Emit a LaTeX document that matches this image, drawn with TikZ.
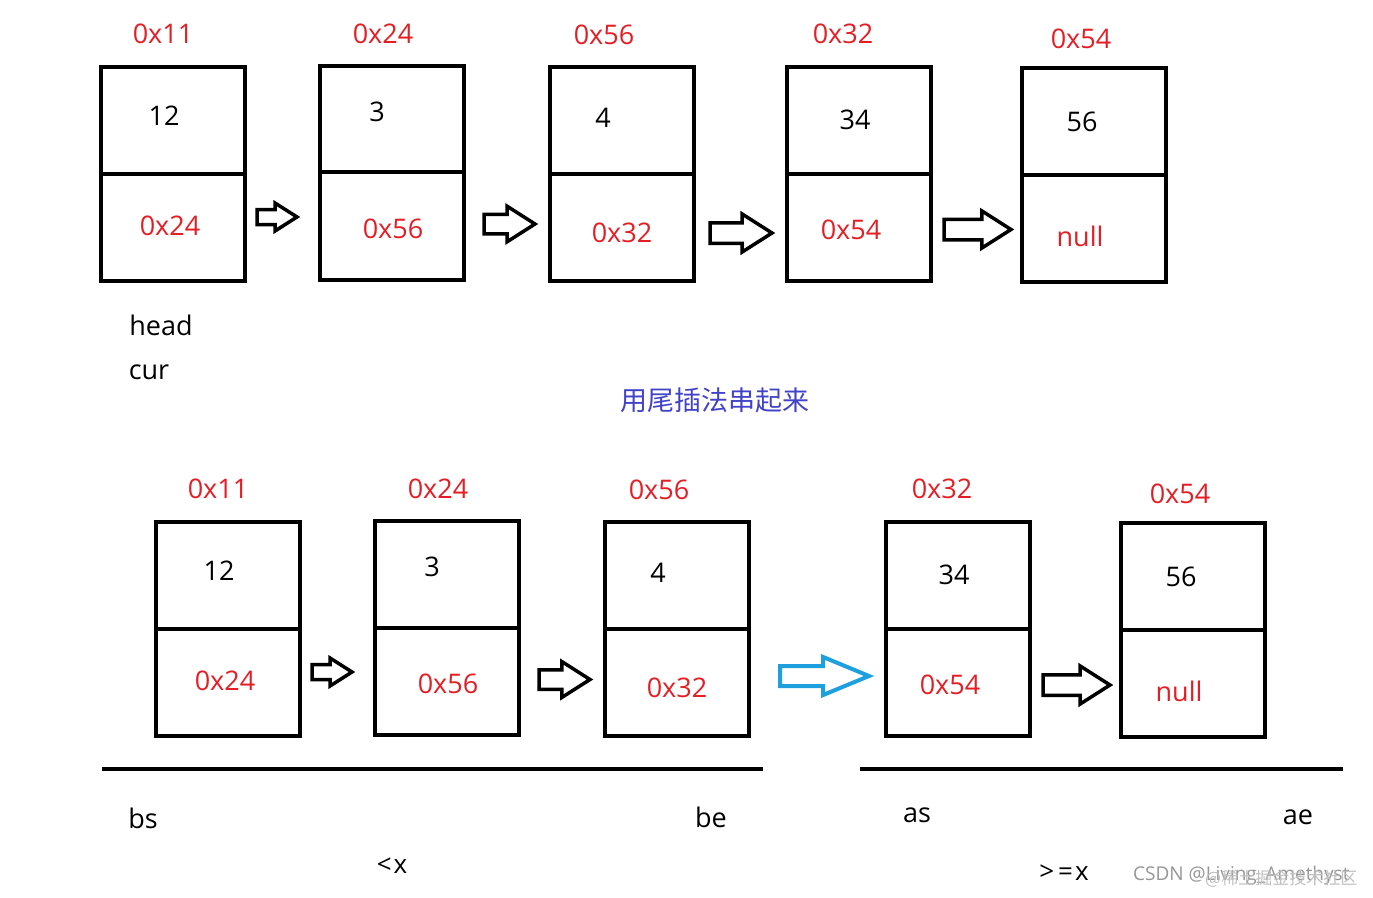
\documentclass[tikz,border=0pt]{standalone}
\usepackage{fontspec}
\setmainfont{Open Sans}
\newfontfamily\cjk{Noto Sans CJK SC}
\usetikzlibrary{shapes.arrows}
\definecolor{addrred}{RGB}{228,30,36}
\definecolor{txtblue}{RGB}{66,66,200}
\definecolor{arrblue}{RGB}{30,160,222}
\definecolor{wmgray}{RGB}{150,150,150}
\tikzset{
  cell/.style={draw=black, line width=4pt, minimum width=144pt, inner sep=0pt, outer sep=0pt},
  addr/.style={text=addrred, font=\fontsize{27}{30}\selectfont, inner sep=0pt},
  val/.style={text=black, font=\fontsize{27}{30}\selectfont, inner sep=0pt},
  lbl/.style={text=black, font=\fontsize{27}{30}\selectfont, inner sep=0pt},
  blk/.style={single arrow, draw=black, line width=3.5pt, inner xsep=0pt, outer sep=0pt, single arrow tip angle=65, anchor=west},
  blu/.style={single arrow, draw=arrblue, line width=4pt, inner xsep=0pt, outer sep=0pt, single arrow tip angle=45, anchor=west},
  sep/.style={line width=4pt, draw=black}
}
\begin{document}
\begin{tikzpicture}[x=1pt,y=-1pt]
\useasboundingbox (0,0) rectangle (1373,897);
% ---------- top row ----------
\node[cell, minimum height=107pt] (t1a) at (173,120.5) {};
\node[cell, minimum height=107pt] (t1b) at (173,227.5) {};
\node[cell, minimum height=106pt] (t2a) at (392,119) {};
\node[cell, minimum height=108pt] (t2b) at (392,226) {};
\node[cell, minimum height=107pt] (t3a) at (622,120.5) {};
\node[cell, minimum height=107pt] (t3b) at (622,227.5) {};
\node[cell, minimum height=107pt] (t4a) at (859,120.5) {};
\node[cell, minimum height=107pt] (t4b) at (859,227.5) {};
\node[cell, minimum height=107pt] (t5a) at (1094,121.5) {};
\node[cell, minimum height=107pt] (t5b) at (1094,228.5) {};

\node[addr] (ta1) at (163,34) {0x11};
\node[addr] (ta2) at (383,34) {0x24};
\node[addr] (ta3) at (604,35) {0x56};
\node[addr] (ta4) at (843,34) {0x32};
\node[addr] (ta5) at (1081,39) {0x54};

\node[val] (tv1) at (164,116) {12};
\node[val] (tv2) at (377,112) {3};
\node[val] (tv3) at (603,118) {4};
\node[val] (tv4) at (855,120) {34};
\node[val] (tv5) at (1082,122) {56};

\node[addr] (tp1) at (170,226) {0x24};
\node[addr] (tp2) at (393,229) {0x56};
\node[addr] (tp3) at (622,233) {0x32};
\node[addr] (tp4) at (851,230) {0x54};
\node[addr] (tp5) at (1080,236) {null};

\node[blk, minimum height=40pt, inner ysep=5.75pt, single arrow head extend=6.5pt] (ar1) at (257,217) {};
\node[blk, minimum height=51pt, inner ysep=8pt, single arrow head extend=8pt] (ar2) at (484,224) {};
\node[blk, minimum height=62pt, inner ysep=8.5pt, single arrow head extend=8.75pt] (ar3) at (710,233) {};
\node[blk, minimum height=67pt, inner ysep=8.5pt, single arrow head extend=8.25pt] (ar4) at (944,229.5) {};

\node[lbl] (head) at (161,325) {head};
\node[lbl] (cur) at (149,372) {cur};

\node[text=txtblue, font=\cjk\fontsize{27}{30}\selectfont, inner sep=0pt] (title) at (715,400) {用尾插法串起来};

% ---------- bottom row ----------
\node[cell, minimum height=107pt] (b1a) at (228,575.5) {};
\node[cell, minimum height=107pt] (b1b) at (228,682.5) {};
\node[cell, minimum height=107pt] (b2a) at (447,574.5) {};
\node[cell, minimum height=107pt] (b2b) at (447,681.5) {};
\node[cell, minimum height=107pt] (b3a) at (677,575.5) {};
\node[cell, minimum height=107pt] (b3b) at (677,682.5) {};
\node[cell, minimum height=107pt] (b4a) at (958,575.5) {};
\node[cell, minimum height=107pt] (b4b) at (958,682.5) {};
\node[cell, minimum height=107pt] (b5a) at (1193,576.5) {};
\node[cell, minimum height=107pt] (b5b) at (1193,683.5) {};

\node[addr] (ba1) at (218,489) {0x11};
\node[addr] (ba2) at (438,489) {0x24};
\node[addr] (ba3) at (659,490) {0x56};
\node[addr] (ba4) at (942,489) {0x32};
\node[addr] (ba5) at (1180,494) {0x54};

\node[val] (bv1) at (219,571) {12};
\node[val] (bv2) at (432,567) {3};
\node[val] (bv3) at (658,573) {4};
\node[val] (bv4) at (954,575) {34};
\node[val] (bv5) at (1181,577) {56};

\node[addr] (bp1) at (225,681) {0x24};
\node[addr] (bp2) at (448,684) {0x56};
\node[addr] (bp3) at (677,688) {0x32};
\node[addr] (bp4) at (950,685) {0x54};
\node[addr] (bp5) at (1179,691) {null};

\node[blk, minimum height=40pt, inner ysep=5.75pt, single arrow head extend=6.5pt] (br1) at (312,672) {};
\node[blk, minimum height=51pt, inner ysep=8pt, single arrow head extend=8.25pt] (br2) at (539,679.5) {};
\node[blu, minimum height=89pt, inner ysep=8pt, single arrow head extend=9pt] (br3) at (780,676) {};
\node[blk, minimum height=67pt, inner ysep=8.5pt, single arrow head extend=8.75pt] (br4) at (1043,685) {};

\coordinate (l1s) at (102,769);
\coordinate (l1e) at (763,769);
\coordinate (l2s) at (860,769);
\coordinate (l2e) at (1343,769);
\draw[sep] (l1s) -- (l1e);
\draw[sep] (l2s) -- (l2e);

\node[lbl] (bs) at (143,818) {bs};
\node[lbl] (be) at (711,817) {be};
\node[lbl] (as) at (917,815) {as};
\node[lbl] (ae) at (1298,817) {ae};
\node[lbl, font=\fontsize{26}{28}\selectfont] (lt) at (392,866) {<\kern2pt x};
\node[lbl, font=\fontsize{26}{28}\selectfont] (ge) at (1064,873) {>\kern4pt=\kern2pt x};

\node[text=wmgray, anchor=west, font=\fontsize{19}{22}\selectfont, inner sep=0pt] (wm) at (1133,876) {CSDN @Living\_Amethyst};
\node[text=wmgray!60, anchor=west, font=\cjk\fontsize{17}{20}\selectfont, inner sep=0pt] (wm2) at (1205,879) {@稀土掘金技术社区};
\end{tikzpicture}
\end{document}
